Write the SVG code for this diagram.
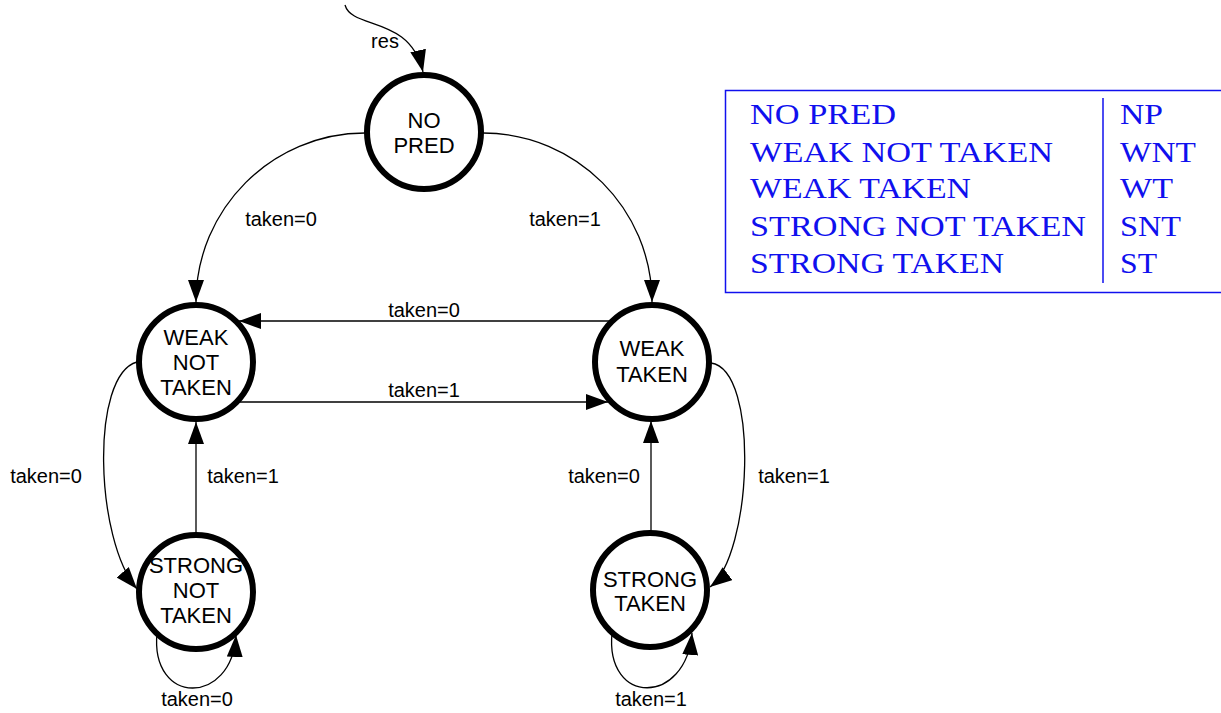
<svg xmlns="http://www.w3.org/2000/svg" width="1221" height="713" viewBox="0 0 1221 713">
<style>
.node circle{fill:#fff;stroke:#000;stroke-width:6}
.node text{font-family:"Liberation Sans",Arial,sans-serif;font-size:22px;fill:#000;text-anchor:middle}
.edge{fill:none;stroke:#000;stroke-width:1.3;marker-end:url(#arr)}
.lbl{font-family:"Liberation Sans",Arial,sans-serif;font-size:20px;fill:#000;text-anchor:middle}
.tbl{font-family:"Liberation Serif","Times New Roman",serif;font-size:30px;fill:#1010ee}
</style>
<defs>
<marker id="arr" markerUnits="userSpaceOnUse" markerWidth="22" markerHeight="16" refX="22" refY="8" orient="auto" viewBox="0 0 22 16">
<path d="M0,0 L22,8 L0,16 z" fill="#000"/>
</marker>
</defs>
<rect width="1221" height="713" fill="#fff"/>
<g id="connectors">
<path class="edge" d="M345,5 C352,30 410,15 423,72"/>
<path class="edge" d="M365,133 C272,133 196,209 196,302"/>
<path class="edge" d="M483,133 C576,133 652,209 652,302"/>
<path class="edge" d="M612,321 L239,321"/>
<path class="edge" d="M238,402 L608,402"/>
<path class="edge" d="M137,362 C90,375 95,540 137,589"/>
<path class="edge" d="M711,363 C760,370 752,555 710,587"/>
<path class="edge" d="M196,532 L196,422"/>
<path class="edge" d="M651,531 L651,421"/>
<path class="edge" d="M157,633 C150,706 232,706 236,635"/>
<path class="edge" d="M612,633 C605,706 686,706 692,633"/>
<text class="lbl" x="385" y="48">res</text>
<text class="lbl" x="281" y="226">taken=0</text>
<text class="lbl" x="565" y="226">taken=1</text>
<text class="lbl" x="424" y="317">taken=0</text>
<text class="lbl" x="424" y="397">taken=1</text>
<text class="lbl" x="46" y="483">taken=0</text>
<text class="lbl" x="243" y="483">taken=1</text>
<text class="lbl" x="604" y="483">taken=0</text>
<text class="lbl" x="794" y="483">taken=1</text>
<text class="lbl" x="197" y="706">taken=0</text>
<text class="lbl" x="651" y="706">taken=1</text>
</g>
<g id="np" class="node">
<circle cx="424" cy="132" r="57"/>
<text x="424" y="128">NO</text>
<text x="424" y="153">PRED</text>
</g>
<g id="wnt" class="node">
<circle cx="196" cy="362" r="57"/>
<text x="196" y="345">WEAK</text>
<text x="196" y="370">NOT</text>
<text x="196" y="395">TAKEN</text>
</g>
<g id="wt" class="node">
<circle cx="652" cy="362" r="57"/>
<text x="652" y="356">WEAK</text>
<text x="652" y="382">TAKEN</text>
</g>
<g id="snt" class="node">
<circle cx="196" cy="592" r="57"/>
<text x="196" y="573">STRONG</text>
<text x="196" y="598">NOT</text>
<text x="196" y="623">TAKEN</text>
</g>
<g id="st" class="node">
<circle cx="650" cy="590" r="57"/>
<text x="650" y="587">STRONG</text>
<text x="650" y="611">TAKEN</text>
</g>
<g id="legend">
<rect x="725.5" y="90.5" width="520" height="202" fill="none" stroke="#1010ee" stroke-width="1.5"/>
<line x1="1103" y1="98" x2="1103" y2="283" stroke="#1010ee" stroke-width="1.5"/>
<text class="tbl" x="750" y="124" textLength="146" lengthAdjust="spacingAndGlyphs">NO PRED</text>
<text class="tbl" x="750" y="162" textLength="303" lengthAdjust="spacingAndGlyphs">WEAK NOT TAKEN</text>
<text class="tbl" x="750" y="198" textLength="221" lengthAdjust="spacingAndGlyphs">WEAK TAKEN</text>
<text class="tbl" x="750" y="236" textLength="336" lengthAdjust="spacingAndGlyphs">STRONG NOT TAKEN</text>
<text class="tbl" x="750" y="273" textLength="254" lengthAdjust="spacingAndGlyphs">STRONG TAKEN</text>
<text class="tbl" x="1120" y="124" textLength="43" lengthAdjust="spacingAndGlyphs">NP</text>
<text class="tbl" x="1120" y="162" textLength="76" lengthAdjust="spacingAndGlyphs">WNT</text>
<text class="tbl" x="1120" y="198" textLength="53" lengthAdjust="spacingAndGlyphs">WT</text>
<text class="tbl" x="1120" y="236" textLength="61" lengthAdjust="spacingAndGlyphs">SNT</text>
<text class="tbl" x="1120" y="273" textLength="37" lengthAdjust="spacingAndGlyphs">ST</text>
</g>
</svg>
